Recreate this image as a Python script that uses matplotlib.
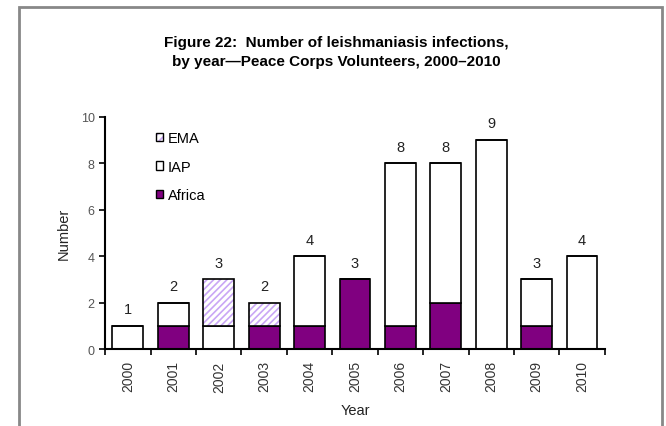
import numpy as np
import matplotlib.pyplot as plt
from matplotlib.patches import Rectangle

plt.rcParams['font.family'] = ['Liberation Sans', 'DejaVu Sans']
plt.rcParams['hatch.linewidth'] = 1.2

years = ['2000', '2001', '2002', '2003', '2004', '2005', '2006', '2007', '2008', '2009', '2010']
africa = [0, 1, 0, 1, 1, 3, 1, 2, 0, 1, 0]
iap = [1, 1, 1, 0, 3, 0, 7, 6, 9, 2, 4]
ema = [0, 0, 2, 1, 0, 0, 0, 0, 0, 0, 0]

purple = '#800080'
lavender = '#c9a6f5'

fig = plt.figure(figsize=(6.66, 4.27), dpi=100)
ax = fig.add_axes([0.158, 0.180, 0.750, 0.544])

x = np.arange(len(years))
w = 0.68
africa = np.array(africa)
iap = np.array(iap)
ema = np.array(ema)
totals = africa + iap + ema

ax.bar(x, africa, w, color=purple, edgecolor='black', linewidth=1.2, zorder=2)
ax.bar(x, iap, w, bottom=africa, color='white', edgecolor='black', linewidth=1.2, zorder=2)
# hatch in lavender, then outline in black on top
ax.bar(x, ema, w, bottom=africa + iap, color='white', edgecolor=lavender, hatch='/////', linewidth=0, zorder=2)
top = ax.bar(x, ema, w, bottom=africa + iap, color='none', edgecolor='black', linewidth=1.2, zorder=3)
ax.bar_label(top, labels=[str(t) for t in totals], padding=7, fontsize=10.5, color='#222222')

# legend handles (EMA, IAP, Africa order)
h_ema_fill = Rectangle((0, 0), 1, 1, facecolor='white', edgecolor=lavender, hatch='////', linewidth=0)
h_ema_edge = Rectangle((0, 0), 1, 1, facecolor='none', edgecolor='black', linewidth=1)
h_iap = Rectangle((0, 0), 1, 1, facecolor='white', edgecolor='black', linewidth=1)
h_afr = Rectangle((0, 0), 1, 1, facecolor=purple, edgecolor='black', linewidth=1)
ax.legend([(h_ema_fill, h_ema_edge), h_iap, h_afr], ['EMA', 'IAP', 'Africa'], loc='upper left',
          bbox_to_anchor=(0.075, 0.995), frameon=False, fontsize=10.5, handlelength=0.5,
          handleheight=0.5, handletextpad=0.3, labelspacing=1.0)

ax.set_xlim(-0.5, len(years) - 0.5)
ax.set_ylim(0, 10)
ax.set_yticks(range(0, 11, 2))
ax.set_xticks(x)
ax.set_xticklabels(years, rotation=90, fontsize=10, color='#333333')
ax.set_xticks(np.arange(-0.5, len(years)), minor=True)
ax.tick_params(axis='x', which='major', length=0, pad=8)
ax.tick_params(axis='x', which='minor', length=4, width=1.2, direction='out')
ax.tick_params(axis='y', length=4, width=1.2, labelsize=9, labelcolor='#555555')
for s in ['top', 'right']:
    ax.spines[s].set_visible(False)
for s in ['left', 'bottom']:
    ax.spines[s].set_linewidth(1.5)

ax.set_ylabel('Number', fontsize=10.5, color='#222222', labelpad=7)
ax.set_xlabel('Year', fontsize=10.5, color='#222222', labelpad=8)

fig.text(0.505, 0.876, 'Figure 22:  Number of leishmaniasis infections,\nby year\u2014Peace Corps Volunteers, 2000\u20132010',
         ha='center', va='center', fontsize=11, fontweight='bold', linespacing=1.45)

# outer frame
fig.patches.append(Rectangle((0.0285, -0.05), 0.965, 1.031, transform=fig.transFigure,
                             fill=False, edgecolor='#888888', linewidth=2))

fig.savefig('out.png', dpi=100)
